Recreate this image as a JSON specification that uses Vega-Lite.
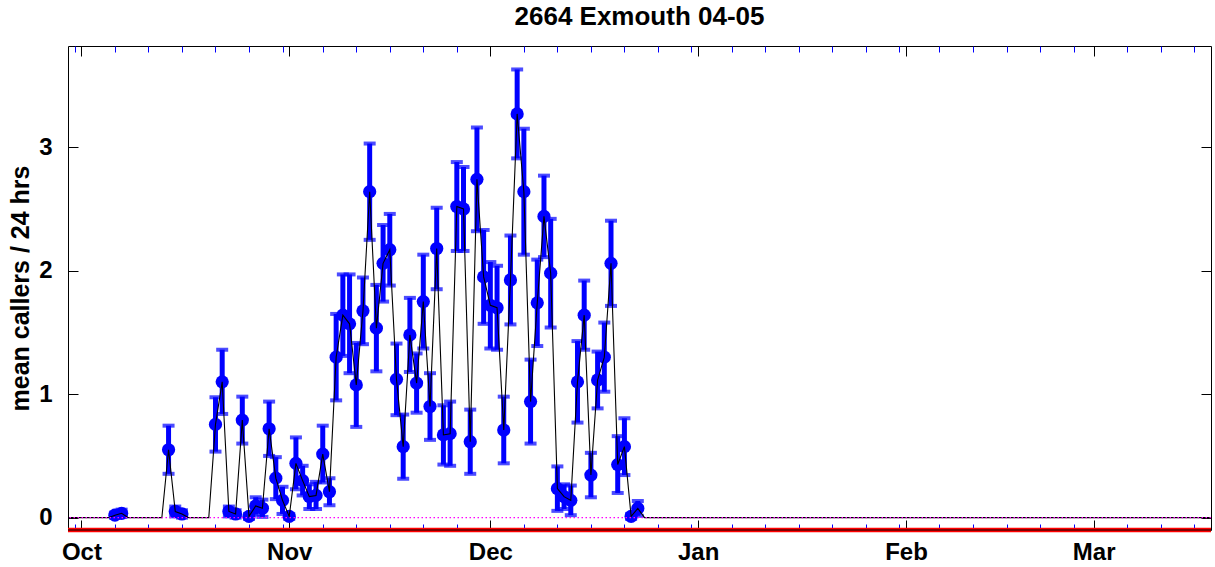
{
  "$schema": "https://vega.github.io/schema/vega-lite/v6.json",
  "width": 1143,
  "height": 484,
  "autosize": "none",
  "padding": {"left": 68, "top": 46, "right": 4, "bottom": 37},
  "background": "white",
  "config": {
    "view": {"stroke": "#000000", "strokeWidth": 1},
    "font": "Liberation Sans",
    "axis": {
      "grid": false, "domain": false,
      "labelFont": "Liberation Sans", "labelFontWeight": "bold", "labelFontSize": 24, "labelColor": "#000000",
      "titleFont": "Liberation Sans", "titleFontWeight": "bold", "titleFontSize": 25, "titleColor": "#000000",
      "tickColor": "#000000", "labelFlush": false, "labelOverlap": false, "labelBound": false
    }
  },
  "title": {"text": "2664 Exmouth 04-05", "font": "Liberation Sans", "fontWeight": "bold", "fontSize": 26, "color": "#000000", "anchor": "middle", "baseline": "alphabetic", "offset": -5},
  "datasets": {
    "calls": [
      {"date": "2004-09-29", "mean": 0},
      {"date": "2004-10-05", "mean": 0},
      {"date": "2004-10-06", "mean": 0.02, "err": 0.02},
      {"date": "2004-10-07", "mean": 0.035, "err": 0.03},
      {"date": "2004-10-08", "mean": 0},
      {"date": "2004-10-13", "mean": 0},
      {"date": "2004-10-14", "mean": 0.55, "err": 0.195},
      {"date": "2004-10-15", "mean": 0.05, "err": 0.04},
      {"date": "2004-10-16", "mean": 0.03, "err": 0.03},
      {"date": "2004-10-17", "mean": 0},
      {"date": "2004-10-20", "mean": 0},
      {"date": "2004-10-21", "mean": 0.755, "err": 0.22},
      {"date": "2004-10-22", "mean": 1.10, "err": 0.26},
      {"date": "2004-10-23", "mean": 0.05, "err": 0.04},
      {"date": "2004-10-24", "mean": 0.03, "err": 0.03},
      {"date": "2004-10-25", "mean": 0.79, "err": 0.19},
      {"date": "2004-10-26", "mean": 0.01, "err": 0.02},
      {"date": "2004-10-27", "mean": 0.095, "err": 0.07},
      {"date": "2004-10-28", "mean": 0.076, "err": 0.07},
      {"date": "2004-10-29", "mean": 0.72, "err": 0.22},
      {"date": "2004-10-30", "mean": 0.32, "err": 0.17},
      {"date": "2004-10-31", "mean": 0.14, "err": 0.11},
      {"date": "2004-11-01", "mean": 0.01, "err": 0.02},
      {"date": "2004-11-02", "mean": 0.44, "err": 0.21},
      {"date": "2004-11-03", "mean": 0.30, "err": 0.12},
      {"date": "2004-11-04", "mean": 0.17, "err": 0.10},
      {"date": "2004-11-05", "mean": 0.18, "err": 0.11},
      {"date": "2004-11-06", "mean": 0.515, "err": 0.23},
      {"date": "2004-11-07", "mean": 0.21, "err": 0.11},
      {"date": "2004-11-08", "mean": 1.30, "err": 0.35},
      {"date": "2004-11-09", "mean": 1.64, "err": 0.33},
      {"date": "2004-11-10", "mean": 1.57, "err": 0.40},
      {"date": "2004-11-11", "mean": 1.075, "err": 0.34},
      {"date": "2004-11-12", "mean": 1.675, "err": 0.27},
      {"date": "2004-11-13", "mean": 2.64, "err": 0.39},
      {"date": "2004-11-14", "mean": 1.535, "err": 0.35},
      {"date": "2004-11-15", "mean": 2.06, "err": 0.31},
      {"date": "2004-11-16", "mean": 2.17, "err": 0.29},
      {"date": "2004-11-17", "mean": 1.12, "err": 0.29},
      {"date": "2004-11-18", "mean": 0.575, "err": 0.26},
      {"date": "2004-11-19", "mean": 1.48, "err": 0.30},
      {"date": "2004-11-20", "mean": 1.09, "err": 0.24},
      {"date": "2004-11-21", "mean": 1.75, "err": 0.38},
      {"date": "2004-11-22", "mean": 0.90, "err": 0.27},
      {"date": "2004-11-23", "mean": 2.18, "err": 0.33},
      {"date": "2004-11-24", "mean": 0.67, "err": 0.24},
      {"date": "2004-11-25", "mean": 0.68, "err": 0.26},
      {"date": "2004-11-26", "mean": 2.52, "err": 0.36},
      {"date": "2004-11-27", "mean": 2.50, "err": 0.34},
      {"date": "2004-11-28", "mean": 0.615, "err": 0.26},
      {"date": "2004-11-29", "mean": 2.74, "err": 0.42},
      {"date": "2004-11-30", "mean": 1.95, "err": 0.38},
      {"date": "2004-12-01", "mean": 1.72, "err": 0.35},
      {"date": "2004-12-02", "mean": 1.70, "err": 0.34},
      {"date": "2004-12-03", "mean": 0.71, "err": 0.27},
      {"date": "2004-12-04", "mean": 1.925, "err": 0.36},
      {"date": "2004-12-05", "mean": 3.27, "err": 0.36},
      {"date": "2004-12-06", "mean": 2.64, "err": 0.51},
      {"date": "2004-12-07", "mean": 0.94, "err": 0.34},
      {"date": "2004-12-08", "mean": 1.74, "err": 0.35},
      {"date": "2004-12-09", "mean": 2.44, "err": 0.33},
      {"date": "2004-12-10", "mean": 1.98, "err": 0.44},
      {"date": "2004-12-11", "mean": 0.235, "err": 0.18},
      {"date": "2004-12-12", "mean": 0.17, "err": 0.10},
      {"date": "2004-12-13", "mean": 0.14, "err": 0.12},
      {"date": "2004-12-14", "mean": 1.10, "err": 0.33},
      {"date": "2004-12-15", "mean": 1.64, "err": 0.28},
      {"date": "2004-12-16", "mean": 0.345, "err": 0.18},
      {"date": "2004-12-17", "mean": 1.115, "err": 0.23},
      {"date": "2004-12-18", "mean": 1.30, "err": 0.28},
      {"date": "2004-12-19", "mean": 2.06, "err": 0.345},
      {"date": "2004-12-20", "mean": 0.43, "err": 0.23},
      {"date": "2004-12-21", "mean": 0.575, "err": 0.23},
      {"date": "2004-12-22", "mean": 0.01, "err": 0.02},
      {"date": "2004-12-23", "mean": 0.075, "err": 0.06},
      {"date": "2004-12-24", "mean": 0},
      {"date": "2005-03-19", "mean": 0}
    ]
  },
  "data": {"name": "calls"},
  "resolve": {"axis": {"x": "independent", "y": "independent"}},
  "layer": [
    {
      "transform": [{"filter": "isValid(datum.err)"}],
      "mark": {"type": "errorbar", "color": "#0000ff", "ticks": {"size": 12, "thickness": 4}, "rule": {"strokeWidth": 5}},
      "encoding": {
        "x": {
          "field": "date", "type": "temporal",
          "scale": {"type": "utc", "domain": [{"year": 2004, "month": "Sep", "date": 29, "utc": true}, {"year": 2005, "month": "Mar", "date": 18, "hours": 12, "utc": true}]},
          "axis": {
            "orient": "bottom", "labels": false, "title": null, "tickSize": -6, "tickColor": "#0000ff", "tickWidth": 1,
            "values": [
              {"year": 2004, "month": "Sep", "date": 30, "utc": true},
              {"year": 2004, "month": "Oct", "date": 6, "utc": true},
              {"year": 2004, "month": "Oct", "date": 11, "utc": true},
              {"year": 2004, "month": "Oct", "date": 16, "utc": true},
              {"year": 2004, "month": "Oct", "date": 21, "utc": true},
              {"year": 2004, "month": "Oct", "date": 26, "utc": true},
              {"year": 2004, "month": "Oct", "date": 31, "utc": true},
              {"year": 2004, "month": "Nov", "date": 6, "utc": true},
              {"year": 2004, "month": "Nov", "date": 11, "utc": true},
              {"year": 2004, "month": "Nov", "date": 16, "utc": true},
              {"year": 2004, "month": "Nov", "date": 21, "utc": true},
              {"year": 2004, "month": "Nov", "date": 26, "utc": true},
              {"year": 2004, "month": "Dec", "date": 6, "utc": true},
              {"year": 2004, "month": "Dec", "date": 11, "utc": true},
              {"year": 2004, "month": "Dec", "date": 16, "utc": true},
              {"year": 2004, "month": "Dec", "date": 21, "utc": true},
              {"year": 2004, "month": "Dec", "date": 26, "utc": true},
              {"year": 2004, "month": "Dec", "date": 31, "utc": true},
              {"year": 2005, "month": "Jan", "date": 6, "utc": true},
              {"year": 2005, "month": "Jan", "date": 11, "utc": true},
              {"year": 2005, "month": "Jan", "date": 16, "utc": true},
              {"year": 2005, "month": "Jan", "date": 21, "utc": true},
              {"year": 2005, "month": "Jan", "date": 26, "utc": true},
              {"year": 2005, "month": "Jan", "date": 31, "utc": true},
              {"year": 2005, "month": "Feb", "date": 6, "utc": true},
              {"year": 2005, "month": "Feb", "date": 11, "utc": true},
              {"year": 2005, "month": "Feb", "date": 16, "utc": true},
              {"year": 2005, "month": "Feb", "date": 21, "utc": true},
              {"year": 2005, "month": "Feb", "date": 26, "utc": true},
              {"year": 2005, "month": "Mar", "date": 6, "utc": true},
              {"year": 2005, "month": "Mar", "date": 11, "utc": true},
              {"year": 2005, "month": "Mar", "date": 16, "utc": true}
            ]
          }
        },
        "y": {"field": "mean", "type": "quantitative", "scale": {"domain": [-0.1, 3.82], "nice": false, "zero": false}, "axis": null},
        "yError": {"field": "err"}
      }
    },
    {
      "transform": [{"filter": "isValid(datum.err)"}],
      "mark": {"type": "point", "filled": true, "shape": "circle", "size": 175, "color": "#0000ff", "opacity": 1},
      "encoding": {
        "x": {
          "field": "date", "type": "temporal",
          "axis": {
            "orient": "bottom", "labelExpr": "utcFormat(datum.value, '%b')", "title": null, "tickSize": -10, "labelPadding": 20,
            "values": [
              {"year": 2004, "month": "Oct", "date": 1, "utc": true},
              {"year": 2004, "month": "Nov", "date": 1, "utc": true},
              {"year": 2004, "month": "Dec", "date": 1, "utc": true},
              {"year": 2005, "month": "Jan", "date": 1, "utc": true},
              {"year": 2005, "month": "Feb", "date": 1, "utc": true},
              {"year": 2005, "month": "Mar", "date": 1, "utc": true}
            ]
          }
        },
        "y": {
          "field": "mean", "type": "quantitative",
          "axis": {"orient": "left", "values": [0, 1, 2, 3], "format": "d", "tickSize": -10, "labelPadding": 26, "title": "mean callers / 24 hrs", "titlePadding": 5}
        }
      }
    },
    {
      "mark": {"type": "line", "color": "#000000", "strokeWidth": 1.1, "clip": true},
      "encoding": {
        "x": {
          "field": "date", "type": "temporal",
          "axis": {
            "orient": "top", "labels": false, "title": null, "tickSize": -10,
            "values": [
              {"year": 2004, "month": "Oct", "date": 1, "utc": true},
              {"year": 2004, "month": "Nov", "date": 1, "utc": true},
              {"year": 2004, "month": "Dec", "date": 1, "utc": true},
              {"year": 2005, "month": "Jan", "date": 1, "utc": true},
              {"year": 2005, "month": "Feb", "date": 1, "utc": true},
              {"year": 2005, "month": "Mar", "date": 1, "utc": true}
            ]
          }
        },
        "y": {"field": "mean", "type": "quantitative", "axis": {"orient": "right", "values": [0, 1, 2, 3], "labels": false, "title": null, "tickSize": -10}}
      }
    },
    {
      "data": {"values": [{}]},
      "mark": {"type": "rule", "color": "#ff00ff", "strokeWidth": 1.3, "strokeDash": [1.5, 2.5]},
      "encoding": {"y": {"datum": 0, "type": "quantitative", "axis": null}}
    },
    {
      "data": {"values": [{}]},
      "mark": {"type": "rule", "color": "#ff0000", "strokeWidth": 4.5},
      "encoding": {
        "x": {
          "datum": {"year": 2004, "month": "Sep", "date": 29, "utc": true}, "type": "temporal",
          "axis": {
            "orient": "top", "labels": false, "title": null, "tickSize": -6, "tickColor": "#0000ff", "tickWidth": 1,
            "values": [
              {"year": 2004, "month": "Sep", "date": 30, "utc": true},
              {"year": 2004, "month": "Oct", "date": 6, "utc": true},
              {"year": 2004, "month": "Oct", "date": 11, "utc": true},
              {"year": 2004, "month": "Oct", "date": 16, "utc": true},
              {"year": 2004, "month": "Oct", "date": 21, "utc": true},
              {"year": 2004, "month": "Oct", "date": 26, "utc": true},
              {"year": 2004, "month": "Oct", "date": 31, "utc": true},
              {"year": 2004, "month": "Nov", "date": 6, "utc": true},
              {"year": 2004, "month": "Nov", "date": 11, "utc": true},
              {"year": 2004, "month": "Nov", "date": 16, "utc": true},
              {"year": 2004, "month": "Nov", "date": 21, "utc": true},
              {"year": 2004, "month": "Nov", "date": 26, "utc": true},
              {"year": 2004, "month": "Dec", "date": 6, "utc": true},
              {"year": 2004, "month": "Dec", "date": 11, "utc": true},
              {"year": 2004, "month": "Dec", "date": 16, "utc": true},
              {"year": 2004, "month": "Dec", "date": 21, "utc": true},
              {"year": 2004, "month": "Dec", "date": 26, "utc": true},
              {"year": 2004, "month": "Dec", "date": 31, "utc": true},
              {"year": 2005, "month": "Jan", "date": 6, "utc": true},
              {"year": 2005, "month": "Jan", "date": 11, "utc": true},
              {"year": 2005, "month": "Jan", "date": 16, "utc": true},
              {"year": 2005, "month": "Jan", "date": 21, "utc": true},
              {"year": 2005, "month": "Jan", "date": 26, "utc": true},
              {"year": 2005, "month": "Jan", "date": 31, "utc": true},
              {"year": 2005, "month": "Feb", "date": 6, "utc": true},
              {"year": 2005, "month": "Feb", "date": 11, "utc": true},
              {"year": 2005, "month": "Feb", "date": 16, "utc": true},
              {"year": 2005, "month": "Feb", "date": 21, "utc": true},
              {"year": 2005, "month": "Feb", "date": 26, "utc": true},
              {"year": 2005, "month": "Mar", "date": 6, "utc": true},
              {"year": 2005, "month": "Mar", "date": 11, "utc": true},
              {"year": 2005, "month": "Mar", "date": 16, "utc": true}
            ]
          }
        },
        "x2": {"datum": {"year": 2005, "month": "Mar", "date": 18, "hours": 12, "utc": true}},
        "y": {"datum": -0.1, "type": "quantitative", "axis": null}
      }
    },
    {
      "data": {"values": [{}]},
      "mark": {"type": "rule", "color": "#000000", "strokeWidth": 1},
      "encoding": {"y": {"datum": -0.1, "type": "quantitative", "axis": null}}
    }
  ]
}
